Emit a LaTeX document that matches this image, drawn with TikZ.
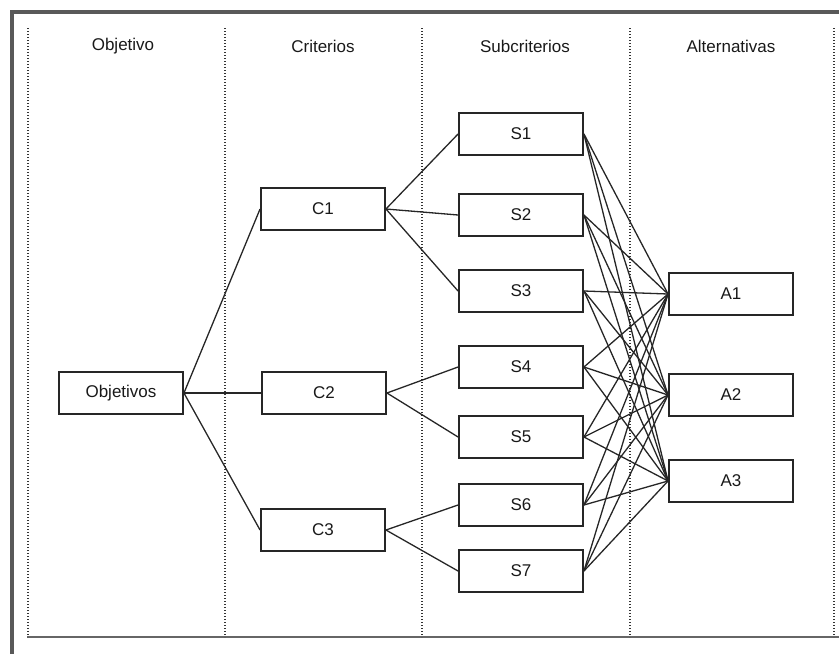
\documentclass[tikz,border=0pt]{standalone}
\usepackage{fontspec}
\setmainfont{Liberation Sans}
\begin{document}
\begin{tikzpicture}[x=1pt,y=-1pt,
  box/.style={draw=black!85, line width=1.9pt, rectangle, minimum width=124pt, minimum height=42pt, inner sep=0pt, font=\fontsize{17}{19}\selectfont, text=black!90},
  hdr/.style={font=\fontsize{17}{19}\selectfont, text=black!90},
  conn/.style={draw=black!85, line width=1.3pt},
  sep/.style={draw=black!80, line width=1.3pt, dash pattern=on 1.3pt off 1.7pt},
  frame/.style={draw=black!65, line width=3.2pt}]
\useasboundingbox (0,0) rectangle (839,654);
% frame
\draw[frame] (12,654) -- (12,12) -- (839,12);
\draw[draw=black!60, line width=2.6pt] (27,637) -- (839,637);
% column separators
\foreach \x in {28,225,422,630,834} \draw[sep] (\x,28) -- (\x,637);
% headers
\node[hdr] (h1) at (123,46) {Objetivo};
\node[hdr] (h2) at (323,46) {Criterios};
\node[hdr] (h3) at (525,46) {Subcriterios};
\node[hdr] (h4) at (731,46) {Alternativas};
% nodes
\node[box] (O) at (121,393) {Objetivos};
\node[box] (C1) at (323,209) {C1};
\node[box] (C2) at (324,393) {C2};
\node[box] (C3) at (323,530) {C3};
\node[box] (S1) at (521,134) {S1};
\node[box] (S2) at (521,215) {S2};
\node[box] (S3) at (521,291) {S3};
\node[box] (S4) at (521,367) {S4};
\node[box] (S5) at (521,437) {S5};
\node[box] (S6) at (521,505) {S6};
\node[box] (S7) at (521,571) {S7};
\node[box] (A1) at (731,294) {A1};
\node[box] (A2) at (731,395) {A2};
\node[box] (A3) at (731,481) {A3};
% connectors
\foreach \c in {C1,C2,C3} \draw[conn] (O.east) -- (\c.west);
\foreach \s in {S1,S2,S3} \draw[conn] (C1.east) -- (\s.west);
\foreach \s in {S4,S5} \draw[conn] (C2.east) -- (\s.west);
\foreach \s in {S6,S7} \draw[conn] (C3.east) -- (\s.west);
\foreach \s in {S1,S2,S3,S4,S5,S6,S7}
  \foreach \a in {A1,A2,A3}
    \draw[conn] (\s.east) -- (\a.west);
\end{tikzpicture}
\end{document}
